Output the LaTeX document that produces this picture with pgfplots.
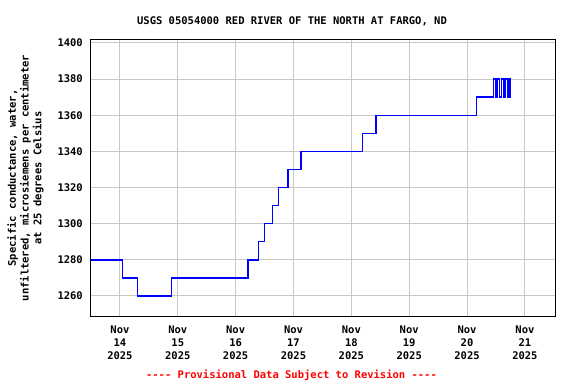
\documentclass[border=0pt]{standalone}
\usepackage{pgfplots}
\pgfplotsset{compat=1.18}
\usepackage{fontspec}
\setmonofont{DejaVu Sans Mono}[BoldFont={DejaVu Sans Mono Bold}]
\definecolor{gridgray}{RGB}{200,200,200}
\definecolor{lineblue}{RGB}{0,0,255}
\begin{document}
\begin{tikzpicture}[font=\ttfamily\bfseries\fontsize{10.5}{12.7}\selectfont]
\begin{axis}[
  scale only axis,
  width=464pt, height=277pt,
  at={(0,0)}, anchor=south west,
  xmin=13.5, xmax=21.52,
  ymin=1248.9, ymax=1402.2,
  axis line style={line width=1pt, black},
  xtick={14,15,16,17,18,19,20,21},
  xticklabels={Nov\\14\\2025,Nov\\15\\2025,Nov\\16\\2025,Nov\\17\\2025,Nov\\18\\2025,Nov\\19\\2025,Nov\\20\\2025,Nov\\21\\2025},
  ytick={1260,1280,1300,1320,1340,1360,1380,1400},
  yticklabels={1260,1280,1300,1320,1340,1360,1380,1400},
  major tick length=0pt,
  grid=major,
  major grid style={line width=1pt, gridgray},
  xticklabel style={align=center, anchor=north, inner sep=0pt, yshift=-10pt, font=\ttfamily\bfseries\fontsize{10.5}{12.7}\selectfont},
  yticklabel style={anchor=east, inner sep=0pt, xshift=-8pt, font=\ttfamily\bfseries\fontsize{10.5}{12.7}\selectfont},
  clip=true,
]
\addplot[const plot, draw=lineblue, line width=1.4pt, mark=none] coordinates {
(13.5,1280)
(14.04,1270)
(14.306,1260)
(14.894,1270)
(16.217,1280)
(16.39,1290)
(16.494,1300)
(16.632,1310)
(16.743,1320)
(16.904,1330)
(17.128,1340)
(18.191,1350)
(18.424,1360)
(20.165,1370)
(20.452,1380)
(20.498,1370)
(20.525,1380)
(20.565,1370)
(20.595,1380)
(20.635,1370)
(20.665,1380)
(20.705,1370)
(20.728,1380)
(20.740,1370)
(20.745,1370)
};
\end{axis}
\node at (201pt,295pt) {USGS 05054000 RED RIVER OF THE NORTH AT FARGO, ND};
\node[rotate=90, align=center] at (-65.5pt,138pt) {Specific conductance, water,\\unfiltered, microsiemens per centimeter\\at 25 degrees Celsius};
\node[text=red] at (200.5pt,-59pt) {---- Provisional Data Subject to Revision ----};
\pgfresetboundingbox
\useasboundingbox (-91pt,-68pt) rectangle (485pt,316pt);
\end{tikzpicture}
\end{document}
